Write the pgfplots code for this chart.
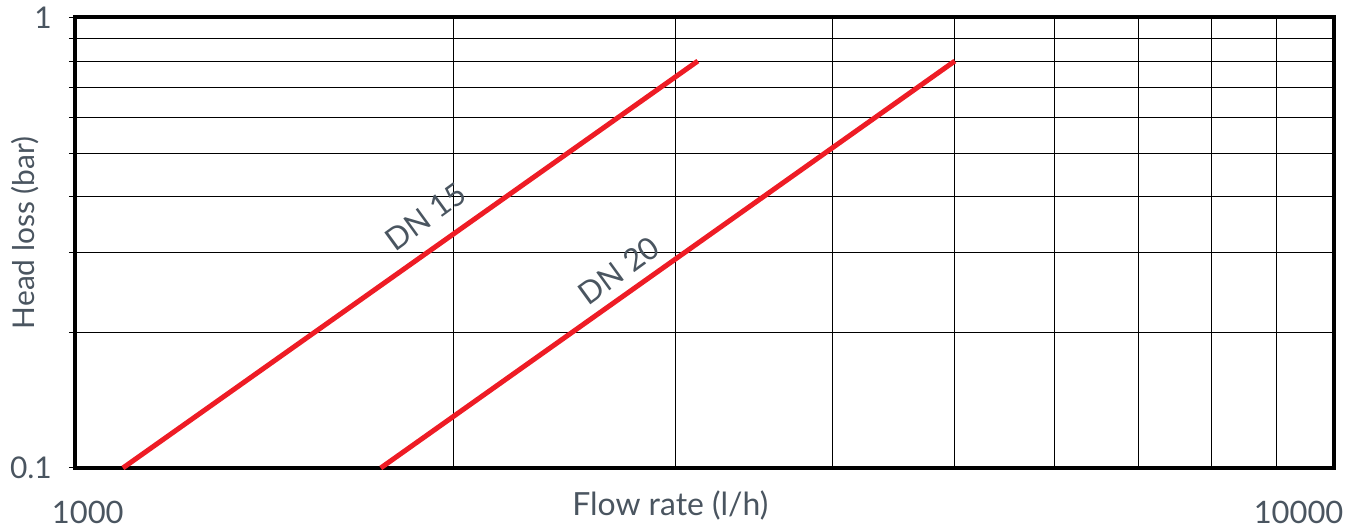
\documentclass[border=0pt]{standalone}
\usepackage{fontspec}
\setmainfont{Lato}
\usepackage{pgfplots}
\pgfplotsset{compat=1.18}
\definecolor{txt}{HTML}{4A5560}
\definecolor{dnred}{HTML}{EE1C25}
\begin{document}
\begin{tikzpicture}
\begin{axis}[name=ax, scale only axis, width=631.5pt, height=226pt,
  xmode=log, ymode=log, xmin=1000, xmax=10000, ymin=0.1, ymax=1,
  axis line style={line width=2pt, black},
  xtick=\empty,
  extra x ticks={2000,3000,4000,5000,6000,7000,8000,9000},
  extra x tick labels={},
  extra x tick style={grid=major, major tick length=0pt},
  ytick={0.1,1}, yticklabels={0.1,1},
  minor ytick={0.2,0.3,0.4,0.5,0.6,0.7,0.8,0.9},
  yminorgrids=true,
  ytick pos=left, tick align=outside,
  major tick length=3pt, minor tick length=3pt,
  tick style={black, line width=0.5pt},
  major grid style={black, line width=0.5pt},
  minor grid style={black, line width=0.5pt},
  yticklabel style={font=\fontsize{15}{15}\selectfont, text=txt, xshift=-5pt},
  clip=false,
]
\addplot[dnred, line width=2.5pt] coordinates {(1092,0.1) (3125,0.8)};
\addplot[dnred, line width=2.5pt] coordinates {(1750,0.1) (5000,0.8)};
\node[rotate=36, text=txt, font=\fontsize{15.5}{15.5}\selectfont] at ([xshift=-1.5pt,yshift=2.5pt]axis cs:1910,0.352) {DN 15};
\node[rotate=36, text=txt, font=\fontsize{15.5}{15.5}\selectfont] at ([xshift=-1pt,yshift=2pt]axis cs:2716,0.269) {DN 20};
\node[rotate=90, text=txt, font=\fontsize{15}{15}\selectfont] at ([xshift=-25pt]axis description cs:0,0.522) {Head loss (bar)};
\node[text=txt, font=\fontsize{16}{16}\selectfont] at ([yshift=-19pt]axis description cs:0.473,0) {Flow rate (l/h)};
\node[text=txt, font=\fontsize{15.5}{15.5}\selectfont] at ([yshift=-22.5pt]axis description cs:0.0103,0) {1000};
\node[text=txt, font=\fontsize{15.5}{15.5}\selectfont] at ([yshift=-22.5pt]axis description cs:0.972,0) {10000};
\end{axis}
\path ([xshift=-37.5pt,yshift=-32pt]ax.south west) rectangle ([xshift=6pt,yshift=7.5pt]ax.north east);
\end{tikzpicture}
\end{document}
